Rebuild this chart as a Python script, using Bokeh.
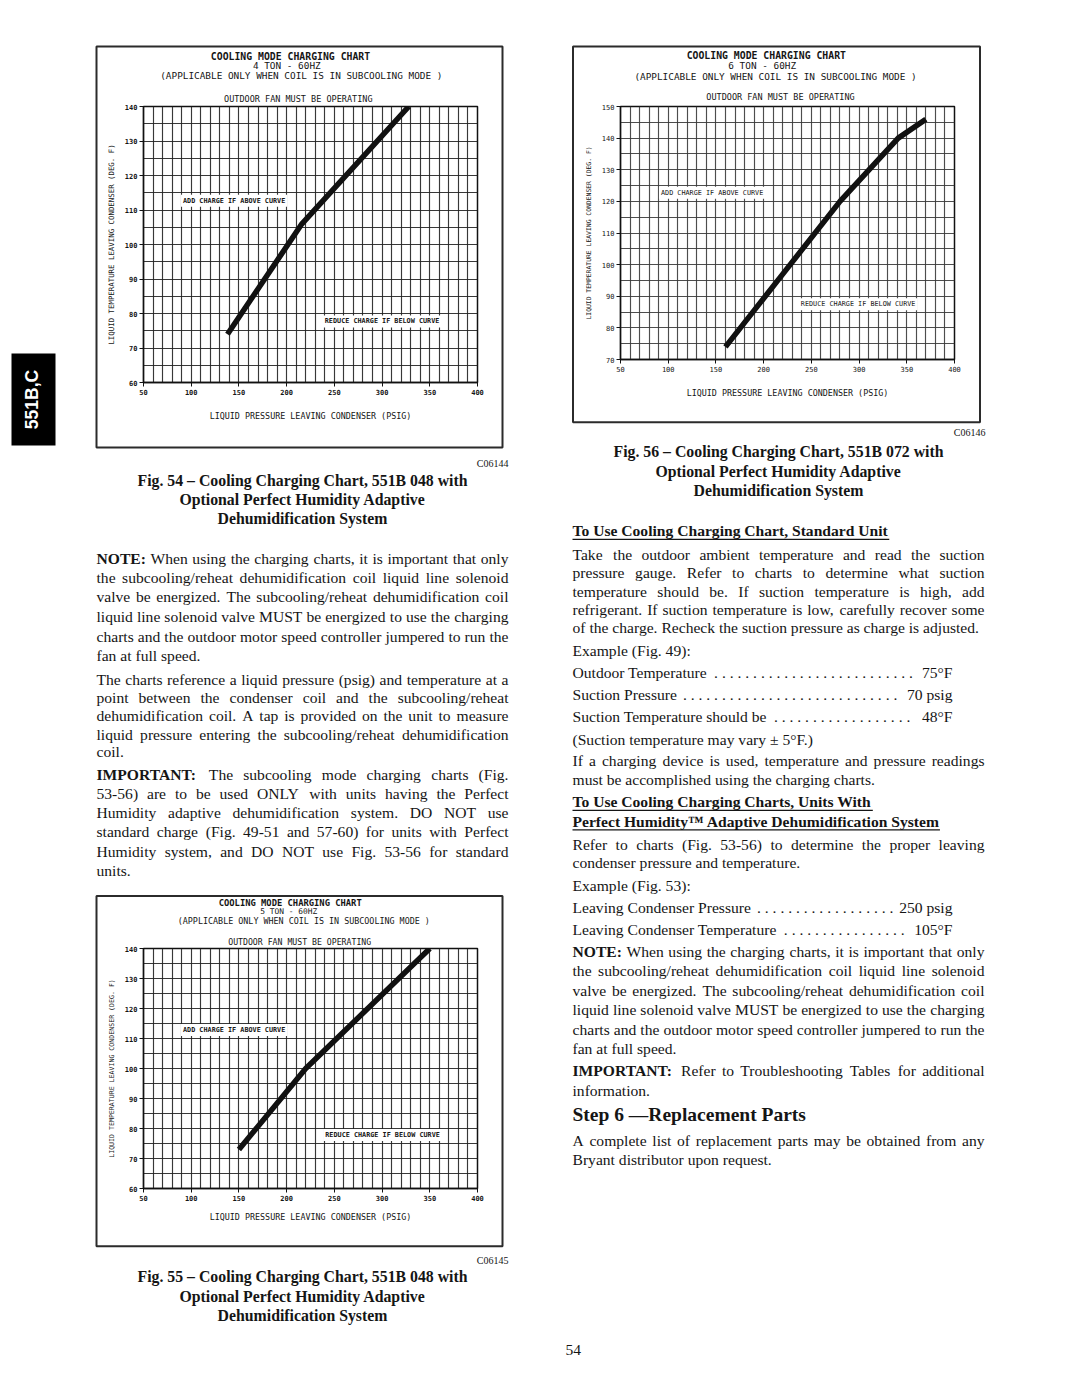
import math
from bokeh.plotting import figure
from bokeh.models import ColumnDataSource, Range1d, FixedTicker, Label, GridBox
from bokeh.embed import file_html
from bokeh.resources import INLINE

# ---------------- chart data ----------------
pressure_ticks = [50, 100, 150, 200, 250, 300, 350, 400]
pressure_grid = list(range(50, 401, 10))
temp_ticks_60 = [60, 70, 80, 90, 100, 110, 120, 130, 140]
temp_grid_60 = list(range(60, 141, 5))
temp_ticks_70 = [70, 80, 90, 100, 110, 120, 130, 140, 150]
temp_grid_70 = list(range(70, 151, 5))

ton4_pressure = [138, 216, 328]
ton4_temp = [74, 106, 140]
ton6_pressure = [160, 220, 280, 341, 370]
ton6_temp = [74, 97, 120, 140, 146]
ton5_pressure = [150, 220, 350]
ton5_temp = [73, 100, 140]

chart_titles = ["COOLING MODE CHARGING CHART",
                "(APPLICABLE ONLY WHEN COIL IS IN SUBCOOLING MODE )",
                "OUTDOOR FAN MUST BE OPERATING"]
ton_labels = ["4 TON - 60HZ", "6 TON - 60HZ", "5 TON - 60HZ"]
x_title = "LIQUID PRESSURE LEAVING CONDENSER (PSIG)"
y_title = "LIQUID TEMPERATURE LEAVING CONDENSER (DEG. F)"
add_text = "ADD CHARGE IF ABOVE CURVE"
reduce_text = "REDUCE CHARGE IF BELOW CURVE"

SERIF = "Liberation Serif"
SANS = "Liberation Sans"
MONO = "DejaVu Sans Mono"
INK = "#151515"
BODY = 15.6
SHIFT = 0.42          # empirical baseline shift of the svg text, in em


# ---------------- font width tables (Times metrics) ----------------
def _tbl(spec):
    d = {}
    for chars, w in spec:
        for c in chars:
            d[c] = w
    return d


REG = _tbl([(" ,.", 250), (":;/ijlt", 278), ("()-frI'", 333), ("sJ", 389), ("°", 400),
            ("acez?", 444), ("0123456789bdghknopquvxy*–", 500), ("FPS", 556), ("±+=", 564),
            ("ELTZ", 611), ("BCR", 667), ("ADGHKNOQUVXYw", 722), ("m&", 778), ("M", 889),
            ("W", 944), ("™", 980), ("—", 1000)])
BLD = _tbl([(" ,.", 250), ("il/", 278), ("tjf:;()-", 333), ("sI", 389), ("°", 400),
            ("cerz", 444), ("0123456789agovxyJ–", 500), ("bdhknpquS", 556), ("FP", 611),
            ("BELTZ", 667), ("ACDNRUVXYw", 722), ("GHKOQ", 778), ("m", 833), ("M", 944),
            ("W™—", 1000)])


def tw(s, bold=False, size=BODY):
    t = BLD if bold else REG
    return sum(t.get(c, 500) for c in s) * size / 1000.0


# ---------------- page text collection ----------------
T = dict(x=[], y=[], text=[], font=[], size=[], style=[], align=[], color=[], angle=[])
UL = dict(x0=[], x1=[], y=[])


def put(x, base, s, font=SERIF, size=BODY, style="normal", align="left", color=INK, angle=0.0):
    """base = wanted visual baseline (page pixels)."""
    T["x"].append(x)
    T["y"].append(base - SHIFT * size)
    T["text"].append(s)
    T["font"].append(font)
    T["size"].append(f"{size}px")
    T["style"].append(style)
    T["align"].append(align)
    T["color"].append(color)
    T["angle"].append(angle)


def words_of(line):
    out = []
    for w in line.split():
        if w.startswith("**") and w.endswith("**"):
            out.append((w[2:-2], True))
        else:
            out.append((w, False))
    return out


def bl(yc, size=BODY):
    return yc + 0.295 * size


def body(x0, width, yc, line, justify):
    yb = bl(yc)
    ws = words_of(line)
    if not justify:
        if all(not b for _, b in ws):
            put(x0, yb, " ".join(w for w, _ in ws))
            return
        x = x0
        for w, b in ws:
            put(x, yb, w, style="bold" if b else "normal")
            x += tw(w, b) + tw(" ")
        return
    widths = [tw(w, b) for w, b in ws]
    gap = (width - sum(widths)) / max(1, len(ws) - 1)
    x = x0
    for i, ((w, b), wd) in enumerate(zip(ws, widths)):
        st = "bold" if b else "normal"
        if i == len(ws) - 1:
            put(x0 + width, yb, w, style=st, align="right")
        else:
            put(x, yb, w, style=st)
        x += wd + gap


def heading(x0, yc, line, underline=True):
    yb = bl(yc)
    put(x0, yb, line, style="bold")
    if underline:
        UL["x0"].append(x0)
        UL["x1"].append(x0 + tw(line, True))
        UL["y"].append(yb + 2.0)


def caption(xc, ycs, lines):
    for yc, s in zip(ycs, lines):
        put(xc, bl(yc, 15.8), s, style="bold", align="center", size=15.8)


def leader(x0, xr, yc, label, val):
    yb = bl(yc)
    put(x0, yb, label)
    put(xr, yb, val, align="right")
    start = x0 + tw(label) + 6
    end = xr - tw(val) - 9
    n = int((end - start) / 7.8) + 1
    put(start, yb, " ".join(["."] * n))


# ---- left column ----
LX, LW = 96, 412
RX, RW = 572, 412

put(508, bl(464.5, 10), "C06144", size=10, align="right")
caption(302, [481.7, 500.7, 520.0], ["Fig. 54 – Cooling Charging Chart, 551B 048 with",
                                     "Optional Perfect Humidity Adaptive",
                                     "Dehumidification System"])
left_lines = [
    ("**NOTE:** When using the charging charts, it is important that only", 560.0, True),
    ("the subcooling/reheat dehumidification coil liquid line solenoid", 579.3, True),
    ("valve be energized. The subcooling/reheat dehumidification coil", 598.3, True),
    ("liquid line solenoid valve MUST be energized to use the charging", 618.3, True),
    ("charts and the outdoor motor speed controller jumpered to run the", 638.0, True),
    ("fan at full speed.", 657.3, False),
    ("The charts reference a liquid pressure (psig) and temperature at a", 680.7, True),
    ("point between the condenser coil and the subcooling/reheat", 699.0, True),
    ("dehumidification coil. A tap is provided on the unit to measure", 717.3, True),
    ("liquid pressure entering the subcooling/reheat dehumidification", 735.7, True),
    ("coil.", 753.3, False),
    ("**IMPORTANT:** The subcooling mode charging charts (Fig.", 775.7, True),
    ("53-56) are to be used ONLY with units having the Perfect", 795.0, True),
    ("Humidity adaptive dehumidification system. DO NOT use", 814.0, True),
    ("standard charge (Fig. 49-51 and 57-60) for units with Perfect", 833.3, True),
    ("Humidity system, and DO NOT use Fig. 53-56 for standard", 853.3, True),
    ("units.", 871.7, False),
]
for s, y, j in left_lines:
    body(LX, LW, y, s, j)

put(508, bl(1261.7, 10), "C06145", size=10, align="right")
caption(302, [1278.0, 1297.5, 1317.0], ["Fig. 55 – Cooling Charging Chart, 551B 048 with",
                                        "Optional Perfect Humidity Adaptive",
                                        "Dehumidification System"])
put(565, bl(1351), "54")

# ---- right column ----
put(985, bl(433, 10), "C06146", size=10, align="right")
caption(778, [453.3, 473.3, 492.3], ["Fig. 56 – Cooling Charging Chart, 551B 072 with",
                                     "Optional Perfect Humidity Adaptive",
                                     "Dehumidification System"])
heading(RX, 532.3, "To Use Cooling Charging Chart, Standard Unit")
right_lines = [
    ("Take the outdoor ambient temperature and read the suction", 556.0, True),
    ("pressure gauge. Refer to charts to determine what suction", 574.3, True),
    ("temperature should be. If suction temperature is high, add", 592.7, True),
    ("refrigerant. If suction temperature is low, carefully recover some", 610.7, True),
    ("of the charge. Recheck the suction pressure as charge is adjusted.", 629.3, False),
    ("Example (Fig. 49):", 651.7, False),
    ("(Suction temperature may vary ± 5°F.)", 740.7, False),
    ("If a charging device is used, temperature and pressure readings", 762.3, True),
    ("must be accomplished using the charging charts.", 781.0, False),
    ("Refer to charts (Fig. 53-56) to determine the proper leaving", 846.0, True),
    ("condenser pressure and temperature.", 864.3, False),
    ("Example (Fig. 53):", 886.7, False),
    ("**NOTE:** When using the charging charts, it is important that only", 952.7, True),
    ("the subcooling/reheat dehumidification coil liquid line solenoid", 972.3, True),
    ("valve be energized. The subcooling/reheat dehumidification coil", 991.7, True),
    ("liquid line solenoid valve MUST be energized to use the charging", 1011.0, True),
    ("charts and the outdoor motor speed controller jumpered to run the", 1030.7, True),
    ("fan at full speed.", 1050.0, False),
    ("**IMPORTANT:** Refer to Troubleshooting Tables for additional", 1072.3, True),
    ("information.", 1091.7, False),
    ("A complete list of replacement parts may be obtained from any", 1142.3, True),
    ("Bryant distributor upon request.", 1160.7, False),
]
for s, y, j in right_lines:
    body(RX, RW, y, s, j)
leader(RX, 952, 674.0, "Outdoor Temperature", "75°F")
leader(RX, 952, 696.0, "Suction Pressure", "70 psig")
leader(RX, 952, 718.3, "Suction Temperature should be", "48°F")
leader(RX, 952, 909.0, "Leaving Condenser Pressure", "250 psig")
leader(RX, 952, 931.0, "Leaving Condenser Temperature", "105°F")
heading(RX, 803.3, "To Use Cooling Charging Charts, Units With")
heading(RX, 822.7, "Perfect Humidity™ Adaptive Dehumidification System")
put(RX, bl(1116.7, 19.5), "Step 6 —Replacement Parts", size=19.5, style="bold")


# ---- chart header lines (drawn on the page, above each chart box) ----
def header(xs, ys, ton, sizes):
    styles = ["bold", "normal", "normal", "normal"]
    texts = [chart_titles[0], ton, chart_titles[1], chart_titles[2]]
    for x, y, s, st, t in zip(xs, ys, sizes, styles, texts):
        put(x, y + 0.36 * s, t, font=MONO, size=s, style=st, align="center")


header([290, 286.3, 300.8, 297.8], [56.5, 66.0, 75.7, 99.5], ton_labels[0], [9.8, 9.4, 9.4, 8.5])
header([765.8, 761.7, 775.0, 780.0], [55.7, 65.5, 76.7, 97.3], ton_labels[1], [9.8, 9.4, 9.4, 8.5])
header([289.7, 288.3, 303.3, 299.2], [903.2, 911.6, 920.8, 941.7], ton_labels[2], [8.8, 7.9, 8.4, 8.2])

# side tab text (rotated: the baseline shift acts horizontally)
put(33, 399, "551B,C", font=SANS, size=17.5, style="bold", align="center",
    color="white", angle=math.pi / 2)
T["x"][-1] = 33 + 0.36 * 17.5 - SHIFT * 17.5
T["y"][-1] = 399

# ---------------- page figure ----------------
page = figure(width=1080, height=1397, x_range=Range1d(0, 1080), y_range=Range1d(1397, 0),
              output_backend="svg", toolbar_location=None, x_axis_type=None, y_axis_type=None,
              min_border=0, outline_line_color=None, background_fill_color="white",
              border_fill_color="white")
page.xgrid.visible = False
page.ygrid.visible = False

# chart boxes and side tab
page.quad(left=[96, 572.5, 96], right=[502, 979.5, 502], top=[46, 46, 895.5],
          bottom=[447, 421.7, 1245.7], fill_color=None, line_color="#2b2b2b", line_width=2)
page.quad(left=[11], right=[55], top=[353], bottom=[445], fill_color="black", line_color=None)

src = ColumnDataSource(T)
page.text(x="x", y="y", text="text", text_font="font", text_font_size="size",
          text_font_style="style", text_align="align", text_color="color", angle="angle",
          text_baseline="alphabetic", source=src)
page.segment(x0="x0", y0="y", x1="x1", y1="y", line_color=INK, line_width=1.3,
             source=ColumnDataSource(UL))


# ---------------- charts ----------------
def chart(w, h, borders, y_lo, y_hi, y_ticks, grid_y, px, py, bold, tick_size,
          xlab_size, ylab_size, xlab_standoff, ylab_standoff, add_xy, red_xy, grid_color):
    b_l, b_r, b_t, b_b = borders
    p = figure(width=w, height=h, x_range=Range1d(50, 400), y_range=Range1d(y_lo, y_hi),
               output_backend="svg", toolbar_location=None,
               min_border_left=b_l, min_border_right=b_r, min_border_top=b_t, min_border_bottom=b_b,
               border_fill_color=None, background_fill_color="white",
               outline_line_color="#111111", outline_line_width=1.5)
    p.xaxis.ticker = FixedTicker(ticks=pressure_ticks)
    p.yaxis.ticker = FixedTicker(ticks=y_ticks)
    p.xgrid.ticker = FixedTicker(ticks=pressure_grid)
    p.ygrid.ticker = FixedTicker(ticks=grid_y)
    p.grid.grid_line_color = grid_color
    p.grid.grid_line_width = 1.15
    p.grid.grid_line_alpha = 0.9
    p.xaxis.axis_label = x_title
    p.yaxis.axis_label = y_title
    for ax in p.axis:
        ax.axis_line_color = "#111111"
        ax.axis_line_width = 1.3
        ax.major_tick_line_color = "#111111"
        ax.major_tick_in = 0
        ax.major_tick_out = 4
        ax.minor_tick_line_color = None
        ax.major_label_standoff = 2
        ax.major_label_text_font = MONO
        ax.major_label_text_font_size = f"{tick_size}px"
        ax.major_label_text_font_style = "bold" if bold else "normal"
        ax.major_label_text_color = INK
        ax.axis_label_text_font = MONO
        ax.axis_label_text_font_style = "normal"
        ax.axis_label_text_color = INK
    p.xaxis.axis_label_text_font_size = f"{xlab_size}px"
    p.yaxis.axis_label_text_font_size = f"{ylab_size}px"
    p.xaxis.axis_label_standoff = xlab_standoff
    p.yaxis.axis_label_standoff = ylab_standoff
    p.line(px, py, line_width=5.5, line_color="#111111")
    for (lx, ly), txt in ((add_xy, add_text), (red_xy, reduce_text)):
        p.add_layout(Label(x=lx, y=ly, text=txt, text_align="center", text_baseline="middle",
                           text_font=MONO, text_font_size="6.8px",
                           text_font_style="bold" if bold else "normal", text_color=INK,
                           background_fill_color="white", padding=2))
    return p


c1 = chart(406, 402, (47, 25, 61, 65), 60, 140, temp_ticks_60, temp_grid_60,
           ton4_pressure, ton4_temp, True, 7, 8.4, 7.4, 13, 6, (145, 112.7), (300, 77.7), "#222222")
c2 = chart(408, 377, (48, 26, 59, 63), 70, 150, temp_ticks_70, temp_grid_70,
           ton6_pressure, ton6_temp, False, 7, 8.4, 6.4, 13, 6, (146, 122.7), (299, 87.5), "#3a3a3a")
c3 = chart(406, 351, (47, 25, 53, 58), 60, 140, temp_ticks_60, temp_grid_60,
           ton5_pressure, ton5_temp, True, 7, 8.4, 6.6, 8, 6, (145, 112.8), (300.5, 77.8), "#222222")

layout = GridBox(children=[(page, 0, 0, 6, 5), (c1, 1, 1, 2, 1), (c2, 1, 3, 1, 1), (c3, 4, 1, 1, 1)],
                 rows=["45px", "377px", "25px", "448px", "351px", "151px"],
                 cols=["96px", "406px", "70px", "408px", "100px"], spacing=0)

open("out.html", "w").write(file_html(layout, INLINE))
